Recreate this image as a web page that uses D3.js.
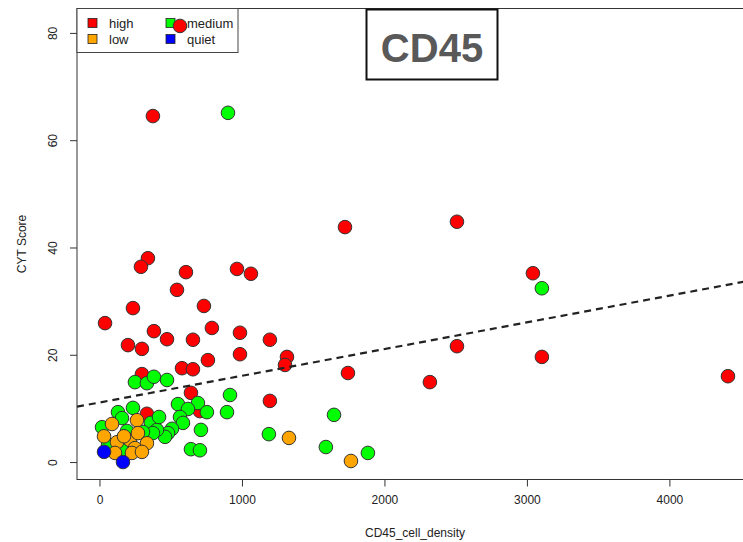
<!DOCTYPE html>
<html>
<head>
<meta charset="utf-8">
<script src="https://cdn.jsdelivr.net/npm/d3@7"></script>
<style>
  body { margin: 0; background: #fff; }
  svg { display: block; }
</style>
</head>
<body>
<svg id="chart" width="743" height="542"></svg>
<script>
// CD45 cell density vs. CYT score, one array of [density, score] pairs per group
const high = [
  [375, 64.5], [565, 81.3], [1723, 43.8], [2509, 44.8], [3042, 35.2], [340, 38.0],
  [291, 36.4], [607, 35.4], [965, 36.0], [1063, 35.1], [544, 32.1], [733, 29.1],
  [235, 28.7], [39, 25.9], [382, 24.4], [474, 22.9], [789, 25.0], [986, 24.1],
  [656, 22.8], [1196, 22.8], [200, 21.8], [298, 21.1], [986, 20.1], [761, 19.0],
  [1316, 19.6], [1302, 18.1], [579, 17.5], [656, 17.3], [1744, 16.6], [2509, 21.6],
  [3105, 19.6], [2319, 14.9], [4411, 16.0], [298, 16.4], [642, 12.9], [1196, 11.4],
  [333, 9.0], [705, 9.5]
];
const medium = [
  [902, 65.1], [3105, 32.4], [249, 14.9], [333, 14.7], [382, 15.9], [474, 15.3],
  [916, 12.5], [551, 10.8], [691, 11.0], [621, 9.9], [754, 9.3], [895, 9.3],
  [565, 8.4], [586, 7.3], [712, 6.0], [509, 6.2], [481, 5.4], [460, 4.7],
  [642, 2.4], [705, 2.2], [1189, 5.2], [1646, 8.8], [1589, 2.8], [1884, 1.7],
  [130, 9.3], [235, 10.1], [158, 8.2], [361, 7.3], [18, 6.5], [193, 5.8],
  [404, 6.0], [375, 5.4], [60, 3.2], [158, 2.2], [418, 8.4], [305, 5.6]
];
const low = [
  [88, 7.1], [263, 7.8], [32, 4.8], [123, 3.7], [214, 4.1], [333, 3.5],
  [270, 5.4], [249, 2.6], [109, 1.7], [228, 1.7], [298, 1.9], [1330, 4.5],
  [1765, 0.2], [172, 4.8]
];
const quiet = [[32, 1.9], [165, 0.0]];

const legendNames = ["high", "low", "medium", "quiet"];
const legendColors = ["#FF0000", "#FFA500", "#00FF00", "#0000FF"];

// linear fit of score on density
const fitIntercept = 11.1;
const fitSlope = 0.00498;

const xTicks = [0, 1000, 2000, 3000, 4000];
const yTicks = [0, 20, 40, 60, 80];

const titleText = "CD45";
const xLabel = "CD45_cell_density";
const yLabel = "CYT Score";

// ---- layout ----
const svg = d3.select("#chart");
const plot = { left: 77, right: 753, top: 8.5, bottom: 479.5 };
const font = "'Liberation Sans', Arial, Helvetica, sans-serif";

const allPts = [...high, ...medium, ...low, ...quiet];
function padded(ext) {
  const s = ext[1] - ext[0];
  return [ext[0] - 0.04 * s, ext[1] + 0.04 * s];
}
const x = d3.scaleLinear()
  .domain(padded(d3.extent(allPts, d => d[0])))
  .range([plot.left, plot.right]);
const y = d3.scaleLinear()
  .domain(padded(d3.extent(allPts, d => d[1])))
  .range([plot.bottom, plot.top]);

svg.append("defs").append("clipPath").attr("id", "plotclip")
  .append("rect")
  .attr("x", plot.left).attr("y", plot.top)
  .attr("width", plot.right - plot.left).attr("height", plot.bottom - plot.top);

// plot frame
svg.append("rect")
  .attr("x", plot.left).attr("y", plot.top)
  .attr("width", plot.right - plot.left).attr("height", plot.bottom - plot.top)
  .attr("fill", "none").attr("stroke", "#333").attr("stroke-width", 1);

// x axis
const xAxis = svg.append("g")
  .attr("transform", `translate(0,${plot.bottom})`)
  .call(d3.axisBottom(x).tickValues(xTicks).tickSize(7).tickPadding(9).tickFormat(d3.format("d")));
xAxis.select(".domain").remove();
xAxis.selectAll("line").attr("stroke", "#333");
xAxis.selectAll("text").attr("font-family", font).attr("font-size", 12).attr("fill", "#222");

// y axis with vertical tick labels
const yAxis = svg.append("g")
  .attr("transform", `translate(${plot.left},0)`)
  .call(d3.axisLeft(y).tickValues(yTicks).tickSize(7).tickFormat(d3.format("d")));
yAxis.select(".domain").remove();
yAxis.selectAll("line").attr("stroke", "#333");
yAxis.selectAll("text")
  .attr("x", 0).attr("y", -20.5).attr("dy", 0)
  .attr("text-anchor", "middle")
  .attr("transform", "rotate(-90)")
  .attr("font-family", font).attr("font-size", 12).attr("fill", "#222");

// axis titles
svg.append("text")
  .attr("x", (plot.left + plot.right) / 2).attr("y", 537)
  .attr("text-anchor", "middle")
  .attr("font-family", font).attr("font-size", 12).attr("fill", "#222")
  .text(xLabel);
svg.append("text")
  .attr("transform", `translate(26,${(plot.top + plot.bottom) / 2}) rotate(-90)`)
  .attr("text-anchor", "middle")
  .attr("font-family", font).attr("font-size", 12).attr("fill", "#222")
  .text(yLabel);

// legend (top-left corner of the plot)
const lg = svg.append("g");
lg.append("rect")
  .attr("x", plot.left).attr("y", plot.top)
  .attr("width", 161).attr("height", 44)
  .attr("fill", "#fff").attr("stroke", "#444").attr("stroke-width", 1);
legendNames.forEach((name, i) => {
  const col = Math.floor(i / 2), row = i % 2;
  const sx = plot.left + 11 + col * 78;
  const sy = plot.top + 10 + row * 16;
  lg.append("rect")
    .attr("x", sx).attr("y", sy).attr("width", 9).attr("height", 9)
    .attr("fill", legendColors[i]).attr("stroke", "#222").attr("stroke-width", 0.8);
  lg.append("text")
    .attr("x", sx + 21).attr("y", sy + 9)
    .attr("font-family", font).attr("font-size", 13).attr("fill", "#222")
    .text(name);
});

// points
const pts = svg.append("g").attr("clip-path", "url(#plotclip)");
[[high, legendColors[0]], [medium, legendColors[2]], [low, legendColors[1]], [quiet, legendColors[3]]]
  .forEach(([data, color]) => {
    pts.selectAll(null).data(data).enter().append("circle")
      .attr("cx", d => x(d[0])).attr("cy", d => y(d[1])).attr("r", 6.8)
      .attr("fill", color).attr("stroke", "#333").attr("stroke-width", 1);
  });

// fitted line
const [x0, x1] = x.domain();
svg.append("line")
  .attr("clip-path", "url(#plotclip)")
  .attr("x1", x(x0)).attr("y1", y(fitIntercept + fitSlope * x0))
  .attr("x2", x(x1)).attr("y2", y(fitIntercept + fitSlope * x1))
  .attr("stroke", "#222").attr("stroke-width", 2.2)
  .attr("stroke-dasharray", "7,5");

// title box
svg.append("rect")
  .attr("x", 366.5).attr("y", 9.5).attr("width", 131).attr("height", 70)
  .attr("fill", "#fff").attr("stroke", "#111").attr("stroke-width", 2);
svg.append("text")
  .attr("x", 432).attr("y", 62)
  .attr("text-anchor", "middle")
  .attr("font-family", font).attr("font-weight", "bold").attr("font-size", 40)
  .attr("fill", "#595959")
  .text(titleText);
</script>
</body>
</html>
